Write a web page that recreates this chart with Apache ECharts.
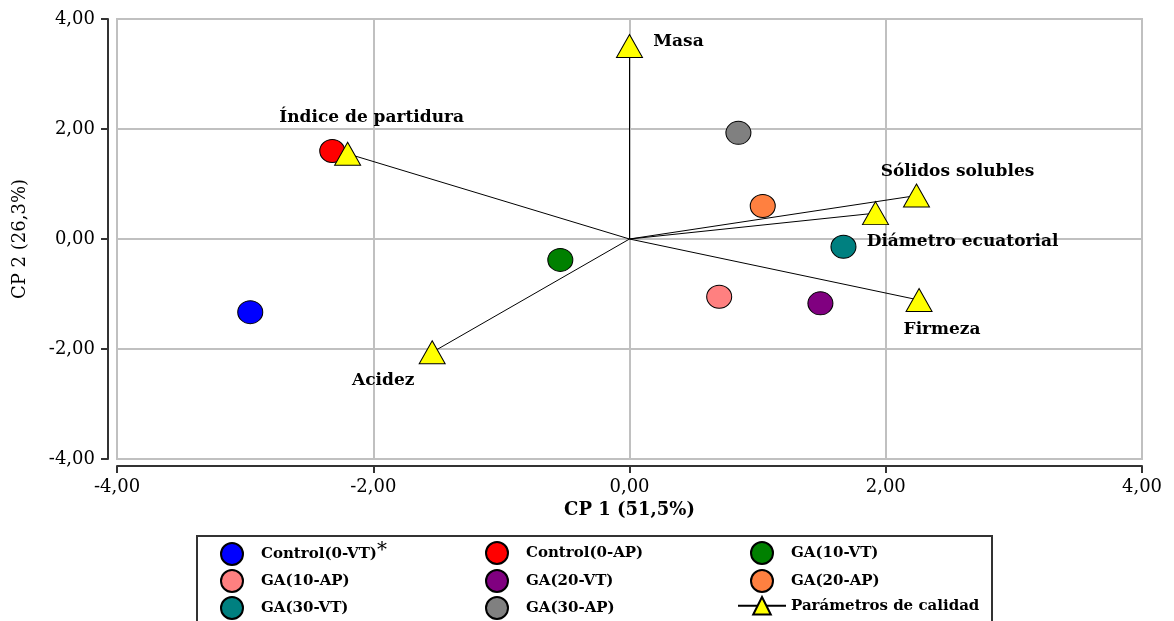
<!DOCTYPE html>
<html>
<head>
<meta charset="utf-8">
<script src="https://cdn.jsdelivr.net/npm/echarts@6/dist/echarts.min.js"></script>
<style>html,body{margin:0;padding:0;background:#fff}#c{width:1174px;height:621px}</style>
</head>
<body>
<div id="c"></div>
<script>
// Treatments (scores)
const groupNames = ['Control(0-VT)', 'Control(0-AP)', 'GA(10-VT)', 'GA(10-AP)', 'GA(20-VT)', 'GA(20-AP)', 'GA(30-VT)', 'GA(30-AP)'];
const groupX = [-2.96, -2.32, -0.54, 0.70, 1.49, 1.04, 1.67, 0.85];
const groupY = [-1.33, 1.60, -0.38, -1.05, -1.17, 0.60, -0.14, 1.93];
const groupColors = ['#0000ff', '#ff0000', '#008000', '#ff8080', '#800080', '#ff8040', '#008080', '#808080'];
// Quality parameters (loadings)
const paramSeriesName = 'Parámetros de calidad';
const paramNames = ['Masa', 'Índice de partidura', 'Acidez', 'Sólidos solubles', 'Diámetro ecuatorial', 'Firmeza'];
const paramX = [0.00, -2.20, -1.54, 2.24, 1.92, 2.26];
const paramY = [3.51, 1.55, -2.06, 0.79, 0.47, -1.11];
// Axes
const axisMin = -4, axisMax = 4, axisInterval = 2;
const xAxisName = 'CP 1 (51,5%)';
const yAxisName = 'CP 2 (26,3%)';
// Legend order (row-major, 3 columns)
const legendOrder = ['Control(0-VT)', 'Control(0-AP)', 'GA(10-VT)', 'GA(10-AP)', 'GA(20-VT)', 'GA(20-AP)', 'GA(30-VT)', 'GA(30-AP)', paramSeriesName];

const labelOffsets = [[49, -4], [24, -36], [-49, 28], [41, -24], [87, 28], [23, 30]];
const serif = 'DejaVu Serif';
const fmt = v => v.toFixed(2).replace('.', ',');

const series = [];
groupNames.forEach((n, i) => {
  series.push({
    name: n, type: 'scatter', symbol: 'circle', symbolSize: [25, 23],
    itemStyle: { color: groupColors[i], borderColor: '#000', borderWidth: 1, opacity: 1 },
    data: [[groupX[i], groupY[i]]], z: 3
  });
});
paramNames.forEach((n, i) => {
  series.push({
    name: paramSeriesName, type: 'line', symbol: 'triangle', symbolSize: [26, 23],
    lineStyle: { color: '#000', width: 1 },
    itemStyle: { color: '#ffff00', borderColor: '#000', borderWidth: 1 },
    z: 4,
    data: [
      { value: [0, 0], symbol: 'none', label: { show: false } },
      { value: [paramX[i], paramY[i]], label: {
          show: true, position: 'inside', offset: labelOffsets[i], formatter: n,
          fontFamily: serif, fontWeight: 'bold', fontSize: 17, color: '#000'
        } }
    ]
  });
});

const legendText = { fontFamily: serif, fontWeight: 'bold', fontSize: 15, color: '#000',
  rich: { s: { fontFamily: serif, fontSize: 20, fontWeight: 'normal', color: '#000', padding: [0, 0, 6, 0] } } };
const colCircleLeft = [220, 485, 750];
const rowTop = [541, 569, 596];
const legends = legendOrder.map((n, k) => {
  const c = k % 3, r = Math.floor(k / 3);
  const isParam = n === paramSeriesName;
  return {
    orient: 'horizontal', left: isParam ? 737 : colCircleLeft[c], top: rowTop[r],
    itemWidth: 48, itemHeight: 22, padding: 0,
    textStyle: legendText, selectedMode: false,
    formatter: x => x === 'Control(0-VT)' ? x + '{s|*}' : x,
    data: [isParam ? { name: n } : { name: n, icon: 'circle' }]
  };
});

const chart = echarts.init(document.getElementById('c'));
chart.setOption({
  animation: false,
  backgroundColor: '#fff',
  grid: { left: 117, right: 32, top: 19, bottom: 162, show: true, borderColor: '#c0c0c0', borderWidth: 2, outerBoundsMode: 'none', containLabel: false },
  xAxis: {
    type: 'value', min: axisMin, max: axisMax, interval: axisInterval, offset: 7,
    name: xAxisName, nameLocation: 'middle', nameGap: 35,
    nameTextStyle: { fontFamily: serif, fontWeight: 'bold', fontSize: 18, color: '#000' },
    axisLine: { show: true, onZero: false, lineStyle: { color: '#333', width: 2 } },
    axisTick: { show: true, length: 7, lineStyle: { color: '#333', width: 2 } },
    axisLabel: { formatter: fmt, fontFamily: serif, fontSize: 18, color: '#000', margin: 12 },
    splitLine: { show: true, lineStyle: { color: '#c0c0c0', width: 2 } }
  },
  yAxis: {
    type: 'value', min: axisMin, max: axisMax, interval: axisInterval, offset: 9,
    name: yAxisName, nameLocation: 'middle', nameGap: 79, nameRotate: 90,
    nameTextStyle: { fontFamily: serif, fontWeight: 'normal', fontSize: 18, color: '#000' },
    axisLine: { show: true, onZero: false, lineStyle: { color: '#333', width: 2 } },
    axisTick: { show: true, length: 7, lineStyle: { color: '#333', width: 2 } },
    axisLabel: { formatter: fmt, fontFamily: serif, fontSize: 18, color: '#000', margin: 13 },
    splitLine: { show: true, lineStyle: { color: '#c0c0c0', width: 2 } }
  },
  legend: legends,
  graphic: [{
    type: 'rect', shape: { x: 197, y: 536, width: 795, height: 120 },
    style: { fill: 'none', stroke: '#333', lineWidth: 2 }, z: -1
  }],
  series: series
});
</script>
</body>
</html>
